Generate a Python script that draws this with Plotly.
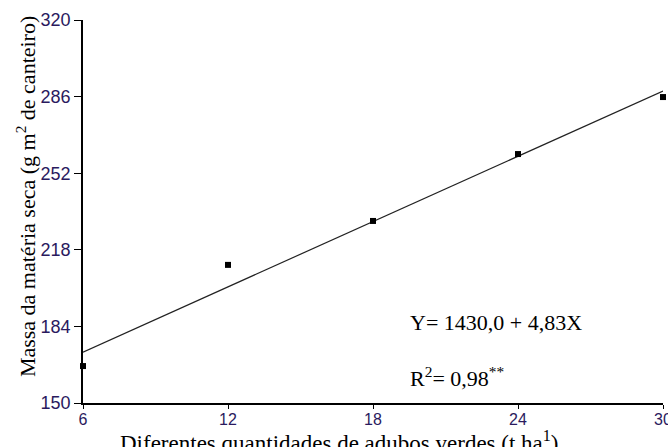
import plotly.graph_objects as go

# Data
doses = [6, 12, 18, 24, 30]
massa = [166.4, 211.3, 230.8, 260.5, 285.8]

# Regression line (plotted fit)
fit_intercept = 143.6
fit_slope = 4.83
fit_x = [6, 30]
fit_y = [fit_intercept + fit_slope * x for x in fit_x]

x_ticks = [6, 12, 18, 24, 30]
y_ticks = [150, 184, 218, 252, 286, 320]

x_title = "Diferentes quantidades de adubos verdes (t ha<sup>1</sup>)"
y_title = "Massa da matéria seca (g m<sup>2</sup> de canteiro)"
eq_text = "Y= 1430,0 + 4,83X"
r2_text = "R<sup>2</sup>= 0,98<sup>**</sup>"

serif = "Liberation Serif"
sans = "Liberation Sans"
tick_col = "#2a1a5e"

fig = go.Figure()
fig.add_trace(go.Scatter(x=fit_x, y=fit_y, mode="lines",
                         line=dict(color="#222", width=1.2), showlegend=False))
fig.add_trace(go.Scatter(x=doses, y=massa, mode="markers",
                         marker=dict(symbol="square", size=6, color="black"),
                         showlegend=False, cliponaxis=False))

fig.add_annotation(x=0.56, y=0.211, xref="paper", yref="paper", text=eq_text,
                   showarrow=False, xanchor="left", yanchor="middle",
                   font=dict(family=serif, size=22, color="black"))
fig.add_annotation(x=0.56, y=0.068, xref="paper", yref="paper", text=r2_text,
                   showarrow=False, xanchor="left", yanchor="middle",
                   font=dict(family=serif, size=22, color="black"))
# axis titles
fig.add_annotation(x=0.443, y=-0.057, xref="paper", yref="paper", text=x_title,
                   showarrow=False, xanchor="center", yanchor="top",
                   font=dict(family=serif, size=23, color="black"))
fig.add_annotation(x=-0.098, y=0.538, xref="paper", yref="paper", text=y_title,
                   showarrow=False, xanchor="center", yanchor="middle", textangle=-90,
                   font=dict(family=serif, size=22, color="black"))

fig.update_layout(
    width=668, height=447,
    margin=dict(l=83, r=5, t=20, b=44, autoexpand=False),
    paper_bgcolor="white", plot_bgcolor="white",
    font=dict(family=sans, size=14, color="black"),
)
fig.update_xaxes(range=[6, 30], tickvals=x_ticks, ticktext=[str(v) for v in x_ticks],
                 automargin=False, ticklabeloverflow="allow", ticklabelstandoff=-3,
                 showgrid=False, zeroline=False, showline=True, linecolor="black",
                 linewidth=1.5, ticks="outside", ticklen=4, tickcolor="black",
                 tickfont=dict(family=sans, size=16, color=tick_col))
fig.update_yaxes(range=[150, 320], tickvals=y_ticks, ticktext=[str(v) for v in y_ticks],
                 automargin=False, ticklabeloverflow="allow",
                 showgrid=False, zeroline=False, showline=True, linecolor="black",
                 linewidth=1.5, ticks="outside", ticklen=7, tickcolor="black",
                 tickfont=dict(family=sans, size=18, color=tick_col))

fig.write_html("out.html", config={"displayModeBar": False},
               post_script="document.body.style.margin='0';document.body.style.overflow='hidden';")
